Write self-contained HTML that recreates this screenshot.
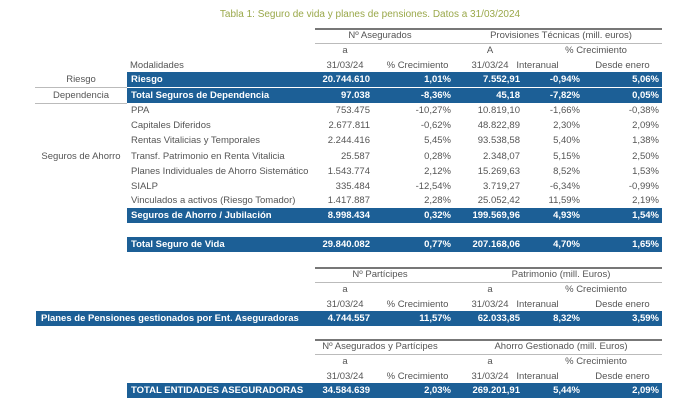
<!DOCTYPE html>
<html><head><meta charset="utf-8"><style>
body{margin:0;width:680px;height:407px;background:#fff;font-family:"Liberation Sans",sans-serif;font-size:9.5px;color:#555;position:relative;overflow:hidden}
.t{position:absolute;white-space:nowrap;line-height:12px}
.r{text-align:right}
.c{text-align:center}
.b{position:absolute;background:#1c5f96}
.w{color:#fff;font-weight:bold}
.l{position:absolute;height:1px;background:#777}
.l2{position:absolute;height:1px;background:#bbb}
</style></head><body>
<div class="t c" style="left:200px;width:340px;top:9px;color:#9aa84a;font-size:10px">Tabla 1: Seguro de vida y planes de pensiones. Datos a 31/03/2024</div>

<!-- table 1 header -->
<div class="l" style="left:315px;width:347px;top:28px;height:2px"></div>
<div class="t c" style="left:315px;width:130px;top:30px">Nº Asegurados</div>
<div class="t c" style="left:460px;width:202px;top:30px">Provisiones Técnicas (mill. euros)</div>
<div class="l2" style="left:315px;width:347px;top:43px"></div>
<div class="t c" style="left:315px;width:60px;top:45px">a</div>
<div class="t c" style="left:460px;width:60px;top:45px">A</div>
<div class="t c" style="left:530px;width:132px;top:45px">% Crecimiento</div>
<div class="t" style="left:130px;top:60px">Modalidades</div>
<div class="t c" style="left:315px;width:60px;top:60px">31/03/24</div>
<div class="t c" style="left:380px;width:75px;top:60px">% Crecimiento</div>
<div class="t c" style="left:460px;width:60px;top:60px">31/03/24</div>
<div class="t c" style="left:505px;width:65px;top:60px">Interanual</div>
<div class="t c" style="left:585px;width:75px;top:60px">Desde enero</div>

<div class="b" style="left:127px;width:535px;top:72px;height:15px"></div>
<div class="b" style="left:127px;width:535px;top:88px;height:15px"></div>
<div class="t c" style="left:35px;width:92px;top:74px">Riesgo</div>
<div class="l2" style="left:35px;width:92px;top:87px"></div>
<div class="t c" style="left:35px;width:92px;top:90px">Dependencia</div>
<div class="l2" style="left:35px;width:92px;top:103px"></div>

<div id="rows"></div>
<div class="t w" style="left:131px;top:74px">Riesgo</div>
<div class="t w r" style="left:270px;width:100px;top:74px">20.744.610</div>
<div class="t w r" style="left:380px;width:71px;top:74px">1,01%</div>
<div class="t w r" style="left:450px;width:70px;top:74px">7.552,91</div>
<div class="t w r" style="left:520px;width:60px;top:74px">-0,94%</div>
<div class="t w r" style="left:590px;width:69px;top:74px">5,06%</div>
<div class="t w" style="left:131px;top:90px">Total Seguros de Dependencia</div>
<div class="t w r" style="left:270px;width:100px;top:90px">97.038</div>
<div class="t w r" style="left:380px;width:71px;top:90px">-8,36%</div>
<div class="t w r" style="left:450px;width:70px;top:90px">45,18</div>
<div class="t w r" style="left:520px;width:60px;top:90px">-7,82%</div>
<div class="t w r" style="left:590px;width:69px;top:90px">0,05%</div>

<div class="t c" style="left:35px;width:92px;top:151px">Seguros de Ahorro</div>

<div class="t" style="left:131px;top:105px">PPA</div><div class="t r" style="left:270px;width:100px;top:105px">753.475</div><div class="t r" style="left:380px;width:71px;top:105px">-10,27%</div><div class="t r" style="left:450px;width:70px;top:105px">10.819,10</div><div class="t r" style="left:520px;width:60px;top:105px">-1,66%</div><div class="t r" style="left:590px;width:69px;top:105px">-0,38%</div>
<div class="t" style="left:131px;top:120px">Capitales Diferidos</div><div class="t r" style="left:270px;width:100px;top:120px">2.677.811</div><div class="t r" style="left:380px;width:71px;top:120px">-0,62%</div><div class="t r" style="left:450px;width:70px;top:120px">48.822,89</div><div class="t r" style="left:520px;width:60px;top:120px">2,30%</div><div class="t r" style="left:590px;width:69px;top:120px">2,09%</div>
<div class="t" style="left:131px;top:135px">Rentas Vitalicias y Temporales</div><div class="t r" style="left:270px;width:100px;top:135px">2.244.416</div><div class="t r" style="left:380px;width:71px;top:135px">5,45%</div><div class="t r" style="left:450px;width:70px;top:135px">93.538,58</div><div class="t r" style="left:520px;width:60px;top:135px">5,40%</div><div class="t r" style="left:590px;width:69px;top:135px">1,38%</div>
<div class="t" style="left:131px;top:151px">Transf. Patrimonio en Renta Vitalicia</div><div class="t r" style="left:270px;width:100px;top:151px">25.587</div><div class="t r" style="left:380px;width:71px;top:151px">0,28%</div><div class="t r" style="left:450px;width:70px;top:151px">2.348,07</div><div class="t r" style="left:520px;width:60px;top:151px">5,15%</div><div class="t r" style="left:590px;width:69px;top:151px">2,50%</div>
<div class="t" style="left:131px;top:166px">Planes Individuales de Ahorro Sistemático</div><div class="t r" style="left:270px;width:100px;top:166px">1.543.774</div><div class="t r" style="left:380px;width:71px;top:166px">2,12%</div><div class="t r" style="left:450px;width:70px;top:166px">15.269,63</div><div class="t r" style="left:520px;width:60px;top:166px">8,52%</div><div class="t r" style="left:590px;width:69px;top:166px">1,53%</div>
<div class="t" style="left:131px;top:181px">SIALP</div><div class="t r" style="left:270px;width:100px;top:181px">335.484</div><div class="t r" style="left:380px;width:71px;top:181px">-12,54%</div><div class="t r" style="left:450px;width:70px;top:181px">3.719,27</div><div class="t r" style="left:520px;width:60px;top:181px">-6,34%</div><div class="t r" style="left:590px;width:69px;top:181px">-0,99%</div>
<div class="t" style="left:131px;top:195px">Vinculados a activos (Riesgo Tomador)</div><div class="t r" style="left:270px;width:100px;top:195px">1.417.887</div><div class="t r" style="left:380px;width:71px;top:195px">2,28%</div><div class="t r" style="left:450px;width:70px;top:195px">25.052,42</div><div class="t r" style="left:520px;width:60px;top:195px">11,59%</div><div class="t r" style="left:590px;width:69px;top:195px">2,19%</div>

<div class="b" style="left:127px;width:535px;top:208px;height:15px"></div>
<div class="t w" style="left:131px;top:210px">Seguros de Ahorro / Jubilación</div><div class="t w r" style="left:270px;width:100px;top:210px">8.998.434</div><div class="t w r" style="left:380px;width:71px;top:210px">0,32%</div><div class="t w r" style="left:450px;width:70px;top:210px">199.569,96</div><div class="t w r" style="left:520px;width:60px;top:210px">4,93%</div><div class="t w r" style="left:590px;width:69px;top:210px">1,54%</div>

<div class="b" style="left:127px;width:535px;top:237px;height:15px"></div>
<div class="t w" style="left:131px;top:239px">Total Seguro de Vida</div><div class="t w r" style="left:270px;width:100px;top:239px">29.840.082</div><div class="t w r" style="left:380px;width:71px;top:239px">0,77%</div><div class="t w r" style="left:450px;width:70px;top:239px">207.168,06</div><div class="t w r" style="left:520px;width:60px;top:239px">4,70%</div><div class="t w r" style="left:590px;width:69px;top:239px">1,65%</div>

<!-- table 2 -->
<div class="l" style="left:315px;width:347px;top:267px;height:2px"></div>
<div class="t c" style="left:315px;width:130px;top:269px">Nº Partícipes</div>
<div class="t c" style="left:460px;width:202px;top:269px">Patrimonio (mill. Euros)</div>
<div class="l2" style="left:315px;width:347px;top:282px"></div>
<div class="t c" style="left:315px;width:60px;top:284px">a</div>
<div class="t c" style="left:460px;width:60px;top:284px">a</div>
<div class="t c" style="left:530px;width:132px;top:284px">% Crecimiento</div>
<div class="t c" style="left:315px;width:60px;top:299px">31/03/24</div>
<div class="t c" style="left:380px;width:75px;top:299px">% Crecimiento</div>
<div class="t c" style="left:460px;width:60px;top:299px">31/03/24</div>
<div class="t c" style="left:505px;width:65px;top:299px">Interanual</div>
<div class="t c" style="left:585px;width:75px;top:299px">Desde enero</div>
<div class="b" style="left:36px;width:626px;top:311px;height:15px"></div>
<div class="t w" style="left:41px;top:313px">Planes de Pensiones gestionados por Ent. Aseguradoras</div><div class="t w r" style="left:270px;width:100px;top:313px">4.744.557</div><div class="t w r" style="left:380px;width:71px;top:313px">11,57%</div><div class="t w r" style="left:450px;width:70px;top:313px">62.033,85</div><div class="t w r" style="left:520px;width:60px;top:313px">8,32%</div><div class="t w r" style="left:590px;width:69px;top:313px">3,59%</div>

<!-- table 3 -->
<div class="l" style="left:315px;width:347px;top:339px;height:2px"></div>
<div class="t c" style="left:315px;width:130px;top:341px">Nº Asegurados y Partícipes</div>
<div class="t c" style="left:460px;width:202px;top:341px">Ahorro Gestionado (mill. Euros)</div>
<div class="l2" style="left:315px;width:347px;top:354px"></div>
<div class="t c" style="left:315px;width:60px;top:356px">a</div>
<div class="t c" style="left:460px;width:60px;top:356px">a</div>
<div class="t c" style="left:530px;width:132px;top:356px">% Crecimiento</div>
<div class="t c" style="left:315px;width:60px;top:371px">31/03/24</div>
<div class="t c" style="left:380px;width:75px;top:371px">% Crecimiento</div>
<div class="t c" style="left:460px;width:60px;top:371px">31/03/24</div>
<div class="t c" style="left:505px;width:65px;top:371px">Interanual</div>
<div class="t c" style="left:585px;width:75px;top:371px">Desde enero</div>
<div class="b" style="left:127px;width:535px;top:383px;height:15px"></div>
<div class="t w" style="left:131px;top:385px">TOTAL ENTIDADES ASEGURADORAS</div><div class="t w r" style="left:270px;width:100px;top:385px">34.584.639</div><div class="t w r" style="left:380px;width:71px;top:385px">2,03%</div><div class="t w r" style="left:450px;width:70px;top:385px">269.201,91</div><div class="t w r" style="left:520px;width:60px;top:385px">5,44%</div><div class="t w r" style="left:590px;width:69px;top:385px">2,09%</div>
</body></html>
